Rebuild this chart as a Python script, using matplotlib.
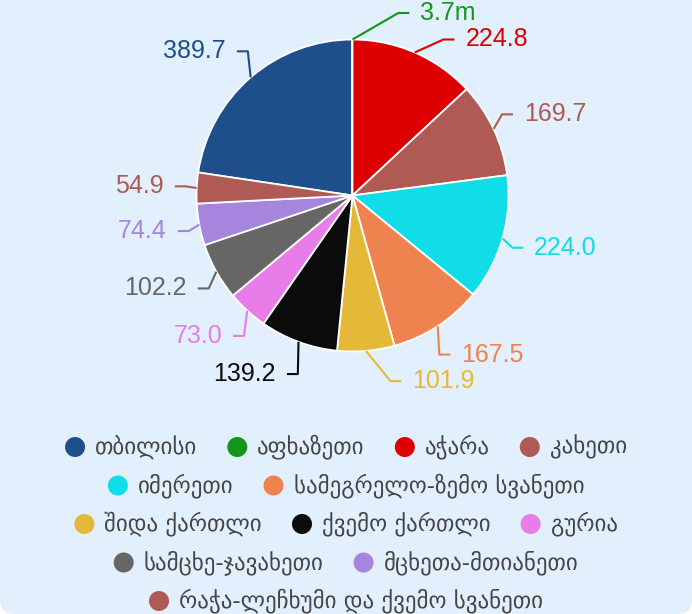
import numpy as np
import matplotlib
matplotlib.use("Agg")
import matplotlib.pyplot as plt
from matplotlib.patches import FancyBboxPatch, Circle

# ---- data ----
regions = ["თბილისი", "აფხაზეთი", "აჭარა", "კახეთი", "იმერეთი",
           "სამეგრელო-ზემო სვანეთი", "შიდა ქართლი", "ქვემო ქართლი", "გურია",
           "სამცხე-ჯავახეთი", "მცხეთა-მთიანეთი", "რაჭა-ლეჩხუმი და ქვემო სვანეთი"]
values = [389.7, 0.0037, 224.8, 169.7, 224.0, 167.5, 101.9, 139.2, 73.0,
          102.2, 74.4, 54.9]
colors = ["#1f4f8a", "#14961a", "#de0000", "#b05a56", "#11dde9", "#ef8350",
          "#e5b938", "#0b0b0b", "#e87de9", "#666666", "#a685de", "#b05a56"]

W, H = 692, 614
DPI = 100
fig = plt.figure(figsize=(W / DPI, H / DPI), dpi=DPI, facecolor="white")

# background panel (pixel coordinates)
bg = fig.add_axes([0, 0, 1, 1], zorder=0)
bg.set_xlim(0, W)
bg.set_ylim(H, 0)
bg.axis("off")
bg.add_patch(FancyBboxPatch((0, -30), W, H + 30,
                            boxstyle="round,pad=0,rounding_size=14",
                            facecolor="#e2effd", edgecolor="none"))

# pie axes
cx, cy, r = 352.5, 195.5, 156.0
ax = fig.add_axes([(cx - r) / W, (H - cy - r) / H, 2 * r / W, 2 * r / H], zorder=2)
ax.set_facecolor("none")
ax.axis("off")

vals = np.array(values)
total = vals.sum()
start = 90 + 360 * vals[0] / total
wedges, _ = ax.pie(vals, colors=colors, startangle=start, counterclock=False,
                   radius=1.0,
                   wedgeprops=dict(edgecolor="white", linewidth=1.3))
ax.set_xlim(-1, 1)
ax.set_ylim(-1, 1)

# ---- data labels ----
R_lab = 1.27
top_lim, bot_lim, dmin = 1.17, -1.19, 0.17
labels = []
for w, v, c in zip(wedges, values, colors):
    mid = np.deg2rad((w.theta1 + w.theta2) / 2)
    ex, ey = np.cos(mid), np.sin(mid)
    side = 1 if ex >= 0 else -1
    txt = f"{v * 1000:.1f}m" if v < 1 else f"{v:.1f}"
    labels.append(dict(ex=ex, ey=ey, side=side, y=1.22 * ey, txt=txt, c=c))

for s in (1, -1):
    grp = sorted([l for l in labels if l["side"] == s], key=lambda l: -l["y"])
    prev = None
    for l in grp:
        l["y"] = min(l["y"], top_lim) if prev is None else min(l["y"], prev - dmin)
        prev = l["y"]
    nxt = None
    for l in reversed(grp):
        l["y"] = max(l["y"], bot_lim) if nxt is None else max(l["y"], nxt + dmin)
        nxt = l["y"]

gap, seg = 0.07, 0.07
for l in labels:
    y = l["y"]
    s = l["side"]
    x = s * (np.sqrt(max(R_lab ** 2 - y ** 2, 0)) - 0.06)
    p1 = (x - s * (gap + seg), y)
    p2 = (x - s * gap, y)
    ax.plot([l["ex"], p1[0], p2[0]], [l["ey"], p1[1], p2[1]], color=l["c"],
            lw=1.5, clip_on=False, solid_capstyle="butt")
    ax.text(x, y, l["txt"], color=l["c"], fontsize=18,
            family=["Liberation Sans", "DejaVu Sans"],
            ha="left" if s > 0 else "right", va="center", clip_on=False)

# ---- legend (centered, wrapped rows) ----
fig.canvas.draw()
renderer = fig.canvas.get_renderer()
lfont = dict(fontsize=16.5, family=["DejaVu Sans"], color="#454545")
mr, mgap, item_gap, maxw = 10, 10, 30, 600
items = []
for name, c in zip(regions, colors):
    t = bg.text(0, 0, name, **lfont)
    tw = t.get_window_extent(renderer).width
    t.remove()
    items.append((name, c, tw, 2 * mr + mgap + tw))

rows, cur, curw = [], [], 0
for it in items:
    add = it[3] + (item_gap if cur else 0)
    if cur and curw + add > maxw:
        rows.append(cur)
        cur, curw = [], 0
        add = it[3]
    cur.append(it)
    curw += add
if cur:
    rows.append(cur)

y0, dy = 447, 38.5
for i, row in enumerate(rows):
    rw = sum(it[3] for it in row) + item_gap * (len(row) - 1)
    x = W / 2 - rw / 2
    yy = y0 + i * dy
    for name, c, tw, iw in row:
        bg.add_patch(Circle((x + mr, yy), mr, facecolor=c, edgecolor="none"))
        bg.text(x + 2 * mr + mgap, yy, name, va="center", ha="left", **lfont)
        x += iw + item_gap

fig.savefig("out.png", dpi=DPI, facecolor="white")
